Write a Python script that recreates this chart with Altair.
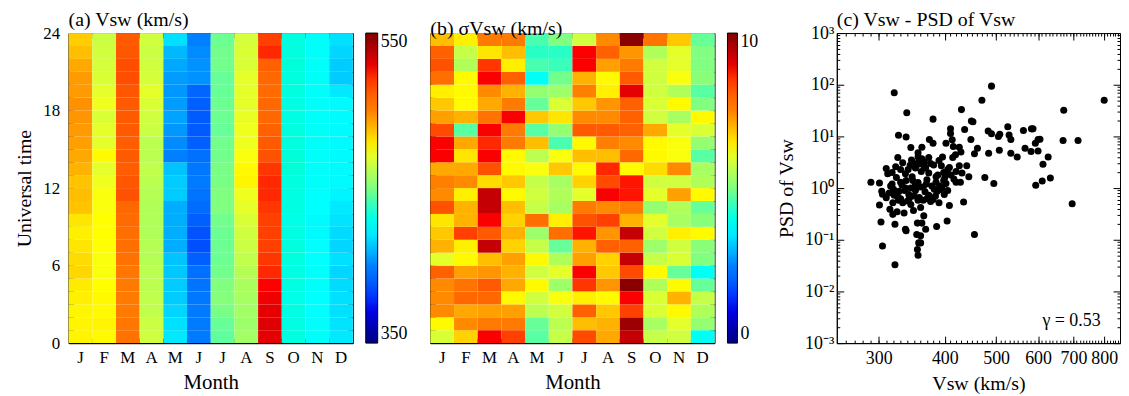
import altair as alt
import pandas as pd

SERIF = "Liberation Serif"
MONTHS = ["Jan", "Feb", "Mar", "Apr", "May", "Jun", "Jul", "Aug", "Sep", "Oct", "Nov", "Dec"]
HOURS = list(range(24))

# (a) mean solar wind speed Vsw (km/s), hour 0..23 for each month
vsw_jan = [477, 477, 477, 478, 479, 483, 482, 480, 478, 480, 487, 488, 487, 490, 492, 494, 495, 496, 497, 495, 495, 492, 488, 485]
vsw_feb = [476, 477, 476, 476, 475, 474, 474, 475, 475, 475, 474, 474, 472, 470, 476, 470, 470, 468, 472, 470, 468, 467, 466, 465]
vsw_mar = [505, 503, 502, 502, 502, 503, 505, 506, 506, 507, 508, 514, 513, 511, 512, 511, 512, 512, 512, 513, 515, 515, 513, 512]
vsw_apr = [466, 465, 463, 463, 462, 462, 461, 461, 460, 460, 460, 461, 462, 463, 462, 462, 465, 466, 468, 470, 467, 466, 465, 466]
vsw_may = [420, 418, 416, 414, 414, 413, 412, 408, 408, 408, 408, 414, 414, 412, 400, 402, 404, 406, 405, 404, 405, 407, 410, 418]
vsw_jun = [398, 398, 398, 397, 396, 395, 390, 386, 387, 390, 394, 396, 398, 397, 395, 390, 389, 389, 390, 392, 403, 403, 402, 400]
vsw_jul = [445, 446, 449, 451, 450, 448, 447, 447, 447, 448, 450, 450, 449, 449, 448, 448, 446, 447, 447, 446, 446, 448, 448, 447]
vsw_aug = [457, 456, 457, 458, 459, 461, 463, 465, 466, 468, 470, 472, 477, 476, 474, 472, 472, 471, 470, 470, 470, 468, 468, 467]
vsw_sep = [530, 531, 530, 528, 525, 522, 520, 518, 518, 518, 520, 522, 522, 520, 514, 512, 510, 508, 508, 507, 508, 510, 522, 518]
vsw_oct = [433, 432, 432, 431, 432, 432, 433, 433, 432, 431, 432, 432, 433, 434, 434, 433, 433, 432, 432, 433, 433, 434, 433, 433]
vsw_nov = [426, 426, 425, 425, 426, 426, 425, 425, 424, 424, 425, 425, 426, 426, 426, 427, 427, 426, 426, 426, 427, 427, 426, 426]
vsw_dec = [420, 419, 418, 418, 417, 416, 418, 416, 417, 419, 420, 423, 424, 424, 424, 424, 424, 424, 424, 420, 414, 414, 416, 418]

# (b) standard deviation sigma Vsw (km/s), hour 0..23 for each month
sig_jan = [5.9, 6.3, 7.4, 7.4, 7.4, 8.0, 6.0, 7.0, 6.8, 6.5, 8.2, 7.4, 7.5, 7.1, 8.8, 8.8, 8.3, 7.2, 6.8, 6.4, 7.8, 8.2, 8.0, 6.9]
sig_feb = [6.7, 7.4, 7.1, 7.9, 7.7, 7.2, 6.3, 6.4, 8.4, 7.0, 7.0, 6.4, 7.4, 7.1, 6.5, 7.1, 4.7, 7.0, 6.3, 6.3, 6.3, 5.5, 5.7, 6.4]
sig_mar = [8.8, 7.6, 7.2, 7.9, 8.1, 7.3, 6.9, 9.3, 8.1, 8.8, 9.3, 9.3, 6.6, 8.2, 8.8, 8.6, 8.8, 7.7, 7.1, 7.4, 8.8, 8.5, 6.5, 7.6]
sig_apr = [8.4, 7.6, 7.2, 6.3, 7.1, 7.0, 7.2, 6.7, 7.0, 6.7, 6.9, 6.3, 6.8, 6.3, 6.3, 7.6, 7.6, 8.8, 7.6, 7.0, 8.0, 6.4, 6.9, 7.6]
sig_may = [4.7, 4.8, 5.6, 5.8, 6.3, 5.8, 6.3, 5.7, 5.3, 7.8, 5.7, 5.8, 5.7, 6.2, 5.6, 6.9, 4.7, 6.8, 4.8, 5.2, 3.9, 4.6, 4.4, 4.6]
sig_jun = [5.7, 5.6, 5.8, 6.2, 5.3, 6.0, 5.5, 4.8, 7.8, 6.4, 5.4, 5.5, 5.4, 6.8, 6.2, 4.6, 5.2, 6.5, 5.9, 5.3, 4.9, 4.5, 4.4, 5.0]
sig_jul = [8.3, 6.9, 8.0, 6.4, 8.5, 8.8, 7.2, 7.0, 8.7, 8.2, 7.6, 6.0, 6.7, 6.3, 6.9, 6.3, 8.1, 7.4, 6.8, 7.5, 7.0, 8.8, 8.8, 5.8]
sig_aug = [7.1, 7.0, 6.8, 6.3, 7.3, 6.8, 6.7, 8.0, 7.3, 8.4, 7.4, 8.8, 8.3, 8.6, 6.9, 7.5, 8.1, 7.4, 7.3, 6.4, 6.3, 7.2, 8.0, 7.4]
sig_sep = [9.3, 9.7, 8.4, 8.8, 9.9, 8.3, 9.3, 8.0, 9.3, 7.0, 7.6, 8.7, 8.7, 6.3, 7.9, 7.4, 8.0, 8.0, 8.0, 9.0, 8.1, 7.6, 7.3, 9.9]
sig_oct = [5.7, 5.4, 5.9, 5.9, 5.5, 6.3, 5.7, 5.3, 5.8, 6.0, 5.2, 6.0, 5.8, 6.6, 6.3, 6.3, 7.1, 5.8, 5.9, 5.8, 5.8, 5.8, 5.5, 7.7]
sig_nov = [5.8, 6.0, 6.3, 7.0, 6.3, 4.8, 5.9, 5.8, 6.4, 5.4, 5.5, 7.2, 5.8, 7.4, 6.2, 6.2, 6.0, 5.4, 6.3, 5.5, 6.2, 6.0, 6.0, 6.8]
sig_dec = [3.9, 5.2, 5.5, 5.7, 4.8, 3.9, 5.0, 5.1, 6.3, 5.1, 4.8, 6.3, 5.5, 5.4, 4.7, 5.2, 5.9, 6.3, 5.0, 4.7, 5.1, 5.0, 5.0, 4.8]

VSW = [vsw_jan, vsw_feb, vsw_mar, vsw_apr, vsw_may, vsw_jun, vsw_jul, vsw_aug, vsw_sep, vsw_oct, vsw_nov, vsw_dec]
SIG = [sig_jan, sig_feb, sig_mar, sig_apr, sig_may, sig_jun, sig_jul, sig_aug, sig_sep, sig_oct, sig_nov, sig_dec]

# (c) scatter: Vsw (km/s) vs PSD of Vsw
sc_vsw = [321, 490, 800, 470, 339, 430, 380, 671, 449, 452, 327, 338, 410, 410, 436, 483, 490, 505, 508, 526,
          529, 533, 563, 583, 587, 600, 605, 593, 669, 714, 374, 380, 402, 413, 448, 345, 362, 415, 426, 461,
          429, 455, 484, 507, 533, 548, 567, 582, 600, 627, 613, 326, 310, 323, 344, 356, 356, 362, 373, 366,
          356, 352, 368, 361, 381, 394, 396, 408, 426, 440, 414, 419, 405, 420, 431, 444, 324, 337, 347, 373,
          385, 388, 400, 411, 420, 476, 495, 290, 301, 330, 345, 356, 369, 385, 402, 391, 594, 611, 633,
          304, 305, 321, 328, 337, 342, 352, 359, 367, 373, 387, 392, 399, 405, 384, 301, 319, 327, 333, 340,
          345, 356, 364, 360, 408, 434, 315, 319, 325, 335, 349, 365, 355, 362, 303, 322, 337, 338, 368, 386,
          404, 354, 360, 357, 360, 355, 356, 305, 322, 455, 696,
          316, 320, 332, 336, 348, 352, 364, 370, 378, 382, 395, 398, 310, 314, 326, 330, 343, 350, 358, 370,
          376, 380, 390, 312, 318, 341, 350, 358, 346, 333, 365, 376, 390, 398, 404, 416, 428, 330, 338, 318]
sc_psd = [70, 94, 50, 50, 28.7, 33, 21.6, 32, 19.8, 19.3, 10.5, 9.7, 14, 11.4, 13.6, 12.7, 11.3, 10, 11, 15.4,
          10.6, 8.7, 13, 14, 14, 8.7, 8.8, 7.4, 8.3, 8.3, 8.7, 7.4, 7.4, 8.6, 8.7, 6.1, 6.2, 6.4, 6.2, 5.9,
          5.0, 4.6, 4.7, 5.4, 4.7, 4.0, 5.9, 5.1, 5.2, 4.0, 2.9, 3.9, 2.4, 2.6, 2.75, 4.8, 4.0, 3.7, 3.9, 3.2,
          2.9, 2.45, 2.45, 2.1, 2.8, 2.7, 4.0, 2.5, 2.7, 2.7, 3.9, 4.4, 2.3, 2.1, 1.95, 1.66, 1.6, 1.9, 1.66, 1.95,
          1.66, 1.8, 1.6, 1.8, 1.3, 1.6, 1.23, 1.3, 1.26, 1.3, 1.0, 1.28, 1.2, 1.3, 1.22, 1.1, 1.14, 1.37, 1.56,
          0.87, 0.76, 0.73, 0.87, 1.0, 0.75, 0.9, 1.05, 0.85, 0.73, 0.87, 0.94, 0.75, 0.9, 0.7, 0.47, 0.52, 0.58, 0.52, 0.56,
          0.48, 0.58, 0.58, 0.42, 0.46, 0.54, 0.39, 0.31, 0.35, 0.33, 0.37, 0.29, 0.21, 0.21, 0.22, 0.2, 0.16, 0.15, 0.16, 0.18,
          0.23, 0.126, 0.12, 0.087, 0.087, 0.065, 0.05, 0.076, 0.033, 0.126, 0.5,
          1.1, 0.95, 1.15, 0.9, 1.4, 1.15, 1.05, 1.45, 1.1, 0.95, 1.0, 1.4, 0.65, 0.8, 0.68, 0.62, 0.64, 0.7, 0.66, 0.62,
          0.55, 0.6, 0.52, 1.9, 2.0, 2.3, 3.0, 3.4, 3.5, 3.1, 2.7, 3.0, 3.4, 2.0, 1.9, 1.5, 1.3, 2.3, 1.4, 1.2]
corr_label = ["γ = 0.53"]

# tick positions
hour_ticks = list(range(1, 24))
vsw_major = [300, 400, 500, 600, 700, 800]
vsw_minor = list(range(260, 860, 10))
psd_major = [0.001, 0.01, 0.1, 1, 10, 100, 1000]
psd_minor = [m * 10.0 ** e for e in range(-3, 3) for m in range(2, 10)]
psd_labels = "['10⁻³','10⁻²','10⁻¹','10⁰','10¹','10²','10³'][round(log(datum.value)/LN10)+3]"

JET = ["#000080", "#0000FF", "#0080FF", "#00FFFF", "#80FF80", "#FFFF00", "#FF8000", "#FF0000", "#800000"]

rows = []
for mi, m in enumerate(MONTHS):
    for h in HOURS:
        rows.append({"month": m, "hour": h, "hour_end": h + 1, "vsw": VSW[mi][h], "sig": SIG[mi][h]})
df = pd.DataFrame(rows)

PLOT_H = 312


def ptitle(text):
    return alt.TitleParams(text, anchor="start", frame="group", fontSize=20, font=SERIF,
                           fontWeight="normal", offset=-6, color="black")


def tick_axis(orient, values, size, band=False):
    kw = dict(orient=orient, values=values, offset=-size, tickSize=size, labels=False, domain=False,
              grid=False, title=None, ticks=True, tickColor="black", tickWidth=1)
    if band:
        kw["bandPosition"] = 0
    return alt.Axis(**kw)


def heat(field, lo, hi, title, show_y, thick):
    dom = [lo + (hi - lo) * i / 8 for i in range(9)]
    xscale = alt.Scale(paddingInner=0, paddingOuter=0)
    yscale = alt.Scale(domain=[0, 24], nice=False, zero=False)
    if show_y:
        yaxis = alt.Axis(values=[0, 6, 12, 18, 24], title="Universal time", titleFontSize=20,
                         labelFontSize=17, ticks=False, labelPadding=9, titlePadding=8, grid=False)
    else:
        yaxis = alt.Axis(labels=False, ticks=False, title=None, grid=False)
    rect = alt.Chart(df).mark_rect(strokeWidth=0).encode(
        x=alt.X("month:O", sort=MONTHS, scale=xscale,
                axis=alt.Axis(title="Month", labelExpr="substring(datum.value, 0, 1)", labelAngle=0,
                              ticks=False, labelPadding=7, labelFontSize=17, titleFontSize=21,
                              titlePadding=6)),
        y=alt.Y("hour:Q", scale=yscale, axis=yaxis),
        y2="hour_end:Q",
        color=alt.Color(f"{field}:Q", scale=alt.Scale(domain=dom, range=JET, clamp=True),
                        legend=alt.Legend(title=None, values=[lo, hi], gradientLength=PLOT_H,
                                          gradientThickness=thick, offset=12, labelFontSize=18,
                                          labelFont=SERIF, gradientStrokeColor="black",
                                          gradientStrokeWidth=1, direction="vertical", orient="right",
                                          labelOffset=3, labelColor="black")),
    )
    t1 = alt.Chart(df).mark_point(opacity=0, size=1).encode(
        x=alt.X("month:O", sort=MONTHS, scale=xscale, axis=tick_axis("bottom", MONTHS[1:], 5, True)),
        y=alt.Y("hour:Q", scale=yscale, axis=tick_axis("left", hour_ticks, 5)),
    )
    t2 = alt.Chart(df).mark_point(opacity=0, size=1).encode(
        x=alt.X("month:O", sort=MONTHS, scale=xscale, axis=tick_axis("top", MONTHS[1:], 5, True)),
        y=alt.Y("hour:Q", scale=yscale, axis=tick_axis("right", hour_ticks, 5)),
    )
    return alt.layer(rect, t1, t2).resolve_axis(x="independent", y="independent").properties(
        width=286, height=PLOT_H, title=ptitle(title))


panel_a = heat("vsw", 350, 550, "(a) Vsw (km/s)", True, 12)
panel_b = heat("sig", 0, 10, "(b) σVsw (km/s)", False, 10)

df_c = pd.DataFrame({"vsw": sc_vsw, "psd": sc_psd})
xs = alt.Scale(type="log", domain=[250, 857], nice=False)
ys = alt.Scale(type="log", domain=[0.001, 1000], nice=False)
pts = alt.Chart(df_c).mark_circle(size=50, color="black", opacity=1).encode(
    x=alt.X("vsw:Q", scale=xs,
            axis=alt.Axis(values=vsw_major, format="d", title="Vsw (km/s)",
                          ticks=False, labelPadding=7, labelFontSize=18, titleFontSize=20,
                          titlePadding=6, grid=False)),
    y=alt.Y("psd:Q", scale=ys,
            axis=alt.Axis(values=psd_major, labelExpr=psd_labels,
                          title="PSD of Vsw", ticks=False, labelPadding=3, labelFontSize=18,
                          titleFontSize=20, titlePadding=8, grid=False)),
)
gtext = alt.Chart(pd.DataFrame({"vsw": [694], "psd": [0.0027], "label": corr_label})).mark_text(
    fontSize=18, font=SERIF, color="black").encode(
    x=alt.X("vsw:Q", scale=xs, axis=None), y=alt.Y("psd:Q", scale=ys, axis=None), text="label:N")


def c_ticks(xo, yo, xv, yv, size):
    return alt.Chart(df_c).mark_point(opacity=0, size=1).encode(
        x=alt.X("vsw:Q", scale=xs, axis=tick_axis(xo, xv, size)),
        y=alt.Y("psd:Q", scale=ys, axis=tick_axis(yo, yv, size)),
    )


panel_c = alt.layer(
    pts, gtext,
    c_ticks("bottom", "left", vsw_minor, psd_minor, 3),
    c_ticks("top", "right", vsw_minor, psd_minor, 3),
    c_ticks("bottom", "left", vsw_major, psd_major, 7),
    c_ticks("top", "right", vsw_major, psd_major, 7),
).resolve_axis(x="independent", y="independent").properties(
    width=285, height=PLOT_H, title=ptitle("(c) Vsw - PSD of Vsw"))


def spacer(w):
    return alt.Chart(pd.DataFrame({"v": [0]})).mark_point(opacity=0).encode(
        x=alt.X("v:Q", axis=None), y=alt.Y("v:Q", axis=None)
    ).properties(width=w, height=PLOT_H, view=alt.ViewBackground(stroke="transparent"))


chart = alt.hconcat(panel_a, spacer(78), panel_b, spacer(123), panel_c, spacing=0, bounds="flush").properties(
    padding={"left": 6, "top": 0, "right": 0, "bottom": 0}
).resolve_scale(color="independent").configure(font=SERIF).configure_view(
    stroke="black", strokeWidth=1
).configure_axis(
    domainColor="black", tickColor="black", labelColor="black", titleColor="black",
    titleFontWeight="normal", labelFont=SERIF, titleFont=SERIF
)

chart.save("out.html", embed_options={"renderer": "svg", "actions": False})
